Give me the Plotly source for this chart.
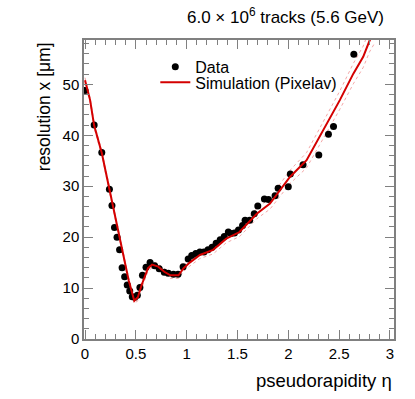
import plotly.graph_objects as go

# measured resolution vs pseudorapidity
eta_data = [0.0, 0.09, 0.165, 0.24, 0.265, 0.29, 0.315, 0.34, 0.365, 0.39,
            0.415, 0.44, 0.465, 0.49, 0.515, 0.54, 0.565, 0.60, 0.64, 0.685,
            0.73, 0.78, 0.82, 0.87, 0.915, 0.965, 1.015, 1.05, 1.09, 1.13,
            1.17, 1.21, 1.25, 1.29, 1.33, 1.37, 1.41, 1.435, 1.47, 1.51,
            1.55, 1.575, 1.62, 1.665, 1.70, 1.765, 1.805, 1.87, 1.90, 2.00,
            2.02, 2.145, 2.30, 2.395, 2.445, 2.645]
res_data = [48.8, 42.0, 36.6, 29.4, 26.2, 21.9, 20.0, 17.5, 14.0, 12.2,
            10.6, 9.4, 8.3, 8.2, 8.6, 10.1, 12.5, 14.1, 15.0, 14.4,
            13.8, 13.1, 12.9, 12.7, 12.7, 14.2, 15.7, 16.4, 16.8, 17.1,
            17.1, 17.5, 18.0, 18.8, 19.5, 20.1, 21.0, 20.7, 20.8, 21.4,
            22.3, 23.3, 23.3, 24.6, 26.1, 27.5, 27.4, 28.1, 29.6, 29.9,
            32.4, 34.2, 36.1, 40.2, 41.7, 55.9]

# Pixelav simulation and its variations
eta_sim = [0.0, 0.05, 0.09, 0.165, 0.24, 0.30, 0.367, 0.43, 0.485, 0.52,
           0.557, 0.62, 0.66, 0.72, 0.78, 0.84, 0.92, 0.97, 1.03, 1.08,
           1.13, 1.26, 1.39, 1.52, 1.69, 1.82, 2.016, 2.18, 2.31, 2.507,
           2.64, 2.737, 2.80, 2.85]
res_sim = [50.8, 46.9, 41.9, 36.5, 29.4, 23.6, 17.5, 11.5, 7.5, 8.2,
           10.6, 13.9, 14.6, 14.2, 13.2, 12.5, 12.5, 13.9, 15.0, 15.8,
           16.5, 17.5, 19.7, 21.0, 24.6, 26.6, 31.8, 35.1, 39.7, 46.9,
           52.1, 55.4, 58.6, 60.3]
res_sim_hi = [51.3, 47.4, 42.4, 37.0, 29.9, 24.1, 18.0, 12.0, 8.0, 8.9,
              11.3, 14.5, 15.2, 14.8, 13.8, 13.1, 13.1, 14.5, 15.7, 16.5,
              17.2, 18.3, 20.5, 21.9, 25.6, 27.7, 33.1, 36.6, 41.3, 48.7,
              54.1, 57.5, 60.8, 62.5]
res_sim_lo = [50.3, 46.4, 41.4, 36.0, 28.9, 23.1, 17.0, 11.0, 7.0, 7.5,
              9.9, 13.3, 14.0, 13.6, 12.6, 11.9, 11.9, 13.3, 14.3, 15.1,
              15.8, 16.7, 18.9, 20.1, 23.6, 25.5, 30.5, 33.6, 38.1, 45.1,
              50.1, 53.3, 56.4, 58.1]

FONT = "Liberation Sans, Arial, sans-serif"
AXC = "#808080"

fig = go.Figure()
for band in (res_sim_hi, res_sim_lo):
    fig.add_trace(go.Scatter(
        x=eta_sim, y=band, mode='lines', showlegend=False,
        line=dict(color='rgba(235,110,110,0.6)', width=1, dash='dot'),
        hoverinfo='skip'
    ))
fig.add_trace(go.Scatter(
    x=eta_data, y=res_data, mode='markers', name='Data',
    marker=dict(color='black', size=7), legend='legend'
))
fig.add_trace(go.Scatter(
    x=eta_sim, y=res_sim, mode='lines', name='Simulation (Pixelav)',
    line=dict(color='#d40000', width=2), legend='legend2'
))

axis_common = dict(
    showgrid=False, zeroline=False, showline=True, linecolor=AXC, linewidth=1.5,
    mirror='ticks', ticks='inside', tickcolor=AXC, tickwidth=1,
    tickfont=dict(family=FONT, size=15, color='black'),
)
fig.update_xaxes(range=[-0.01, 3.04], dtick=0.5, ticklen=9,
                 minor=dict(dtick=0.1, ticklen=5, ticks='inside', tickcolor=AXC),
                 **axis_common)
fig.update_yaxes(range=[0, 58.7], dtick=10, ticklen=9,
                 minor=dict(dtick=2, ticklen=5, ticks='inside', tickcolor=AXC),
                 **axis_common)

leg = dict(xanchor='left', yanchor='top', bgcolor='rgba(0,0,0,0)',
           font=dict(size=16), itemwidth=30)
fig.update_layout(
    width=415, height=399,
    margin=dict(l=84, r=21, t=40, b=60),
    paper_bgcolor='white', plot_bgcolor='white',
    font=dict(family=FONT, size=15, color='black'),
    legend=dict(x=0.23, y=0.967, **leg),
    legend2=dict(x=0.23, y=0.915, **leg),
    annotations=[
        dict(text='pseudorapidity η', xref='paper', yref='paper', x=1.0, y=-0.14,
             xanchor='right', yanchor='middle', showarrow=False,
             font=dict(size=18.5)),
        dict(text='resolution x [μm]', xref='paper', yref='paper', x=-0.13, y=1.0,
             xanchor='center', yanchor='top', textangle=-90, showarrow=False,
             font=dict(size=17.5)),
        dict(text='6.0 × 10<sup>6</sup> tracks (5.6 GeV)', xref='paper', yref='paper',
             x=0.974, y=1.08, xanchor='right', yanchor='middle', showarrow=False,
             font=dict(size=17)),
    ],
)

fig.write_html("out.html", config={'displayModeBar': False},
               post_script="document.body.style.margin='0';")
